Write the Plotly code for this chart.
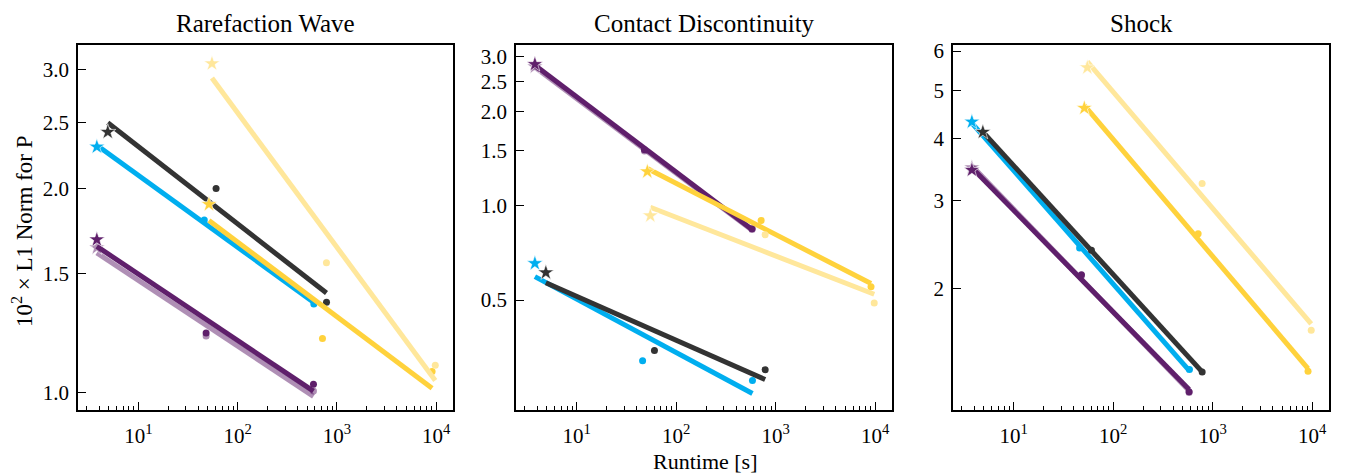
import numpy as np
import plotly.graph_objects as go

# ---------------- data ----------------
panel_titles = ["Rarefaction Wave", "Contact Discontinuity", "Shock"]

runtime_purple = [3.8, 48.0, 580.0]
runtime_lightpurple = [3.8, 48.0, 580.0]
runtime_cyan = [3.8, 46.0, 585.0]
runtime_black = [4.9, 60.5, 785.0]
runtime_yellow = [51.3, 715.0, 9100.0]
runtime_lightyellow = [55.0, 784.0, 9800.0]

# 10^2 x L1 norm for P
rare_lightpurple = [1.637, 1.213, 1.006]
rare_purple = [1.682, 1.225, 1.029]
rare_cyan = [2.305, 1.798, 1.352]
rare_black = [2.424, 2.000, 1.360]
rare_yellow = [1.896, 1.202, 1.075]
rare_lightyellow = [3.058, 1.555, 1.098]

contact_lightpurple = [2.79, 1.500, 0.840]
contact_purple = [2.84, 1.512, 0.846]
contact_cyan = [0.655, 0.3195, 0.2763]
contact_black = [0.612, 0.3445, 0.2993]
contact_yellow = [1.288, 0.898, 0.551]
contact_lightyellow = [0.931, 0.809, 0.489]

shock_lightpurple = [3.50, 2.12, 1.235]
shock_purple = [3.46, 2.13, 1.239]
shock_cyan = [4.325, 2.41, 1.373]
shock_black = [4.125, 2.385, 1.358]
shock_yellow = [4.61, 2.576, 1.362]
shock_lightyellow = [5.56, 3.25, 1.648]

x_ticks = [10, 100, 1000, 10000]
x_ticktext = ["10<sup>1</sup>", "10<sup>2</sup>", "10<sup>3</sup>", "10<sup>4</sup>"]
y_ticks_rare = [1.0, 1.5, 2.0, 2.5, 3.0]
y_ticks_contact = [0.5, 1.0, 1.5, 2.0, 2.5, 3.0]
y_ticks_shock = [2, 3, 4, 5, 6]

# ---------------- styling ----------------
series = [
    ("lightpurple", runtime_lightpurple, [rare_lightpurple, contact_lightpurple, shock_lightpurple], "rgba(95,31,107,0.5)"),
    ("purple", runtime_purple, [rare_purple, contact_purple, shock_purple], "#5f1f6b"),
    ("cyan", runtime_cyan, [rare_cyan, contact_cyan, shock_cyan], "#00aeef"),
    ("black", runtime_black, [rare_black, contact_black, shock_black], "#333333"),
    ("yellow", runtime_yellow, [rare_yellow, contact_yellow, shock_yellow], "#ffd23c"),
    ("lightyellow", runtime_lightyellow, [rare_lightyellow, contact_lightyellow, shock_lightyellow], "#ffe79b"),
]

FONT = "Liberation Serif"
W, H = 1347, 475
x_px = [(78, 453), (516, 892), (953, 1329)]
y_top, y_bot = 40, 409
x_range = [0.39, 4.17]
y_ranges = [[-0.0252, 0.5121], [-0.6524, 0.5134], [0.0568, 0.7895]]
y_ticks_all = [y_ticks_rare, y_ticks_contact, y_ticks_shock]

fig = go.Figure()

for p in range(3):
    xa = "x" if p == 0 else f"x{p+1}"
    ya = "y" if p == 0 else f"y{p+1}"
    for name, rt, ys_all, color in series:
        x = np.array(rt, dtype=float)
        y = np.array(ys_all[p], dtype=float)
        coef = np.polyfit(np.log10(x), np.log10(y), 1)
        xl = np.array([x[0], x[-1]])
        yl = 10 ** np.polyval(coef, np.log10(xl))
        fig.add_trace(go.Scatter(x=xl, y=yl, mode="lines", line=dict(color=color, width=5),
                                 xaxis=xa, yaxis=ya, showlegend=False, hoverinfo="skip"))
        fig.add_trace(go.Scatter(x=x[1:], y=y[1:], mode="markers",
                                 marker=dict(symbol="circle", size=7, color=color, line=dict(width=0)),
                                 xaxis=xa, yaxis=ya, showlegend=False))
        fig.add_trace(go.Scatter(x=x[:1], y=y[:1], mode="markers",
                                 marker=dict(symbol="star", size=12, color=color,
                                             line=dict(width=0.6, color="white")),
                                 xaxis=xa, yaxis=ya, showlegend=False))

minor_vals = [m * 10 ** e for e in range(0, 5) for m in range(2, 10)]

layout = dict(width=W, height=H, margin=dict(l=0, r=0, t=0, b=0),
              paper_bgcolor="white", plot_bgcolor="white",
              font=dict(family=FONT, size=21, color="black"))
for p in range(3):
    sx = "xaxis" if p == 0 else f"xaxis{p+1}"
    sy = "yaxis" if p == 0 else f"yaxis{p+1}"
    ya = "y" if p == 0 else f"y{p+1}"
    xa = "x" if p == 0 else f"x{p+1}"
    layout[sx] = dict(type="log", range=x_range, domain=[x_px[p][0] / W, x_px[p][1] / W],
                      anchor=ya, tickmode="array", tickvals=x_ticks, ticktext=x_ticktext,
                      ticks="inside", ticklen=8, tickwidth=1.3, tickcolor="black",
                      minor=dict(ticks="inside", ticklen=4, tickwidth=1, tickcolor="black",
                                 tickmode="array", tickvals=minor_vals, showgrid=False),
                      showline=True, mirror=True, linecolor="black", linewidth=1.5,
                      showgrid=False, zeroline=False, tickfont=dict(size=21),
                      ticklabelstandoff=6)
    layout[sy] = dict(type="log", range=y_ranges[p], domain=[1 - y_bot / H, 1 - y_top / H],
                      anchor=xa, tickmode="array", tickvals=y_ticks_all[p],
                      ticktext=[f"{v:.1f}" if p < 2 else f"{v:d}" for v in y_ticks_all[p]],
                      ticks="inside", ticklen=8, tickwidth=1.3, tickcolor="black",
                      showline=True, mirror=True, linecolor="black", linewidth=1.5,
                      showgrid=False, zeroline=False, tickfont=dict(size=21),
                      ticklabelstandoff=3)

annotations = []
for p in range(3):
    cx = (x_px[p][0] + x_px[p][1]) / 2 / W
    annotations.append(dict(text=panel_titles[p], x=cx, y=1 - 18 / H, xref="paper", yref="paper",
                            showarrow=False, font=dict(size=25, family=FONT), xanchor="center", yanchor="middle"))
annotations.append(dict(text="Runtime [s]", x=705 / W, y=1 - 461 / H, xref="paper", yref="paper",
                        showarrow=False, font=dict(size=22, family=FONT), xanchor="center", yanchor="middle"))
annotations.append(dict(text="10<sup>2</sup> × L1 Norm for P", x=22 / W, y=1 - 228 / H, xref="paper",
                        yref="paper", showarrow=False, textangle=-90, font=dict(size=23, family=FONT),
                        xanchor="center", yanchor="middle"))
layout["annotations"] = annotations

fig.update_layout(**layout)
fig.write_html("out.html")
